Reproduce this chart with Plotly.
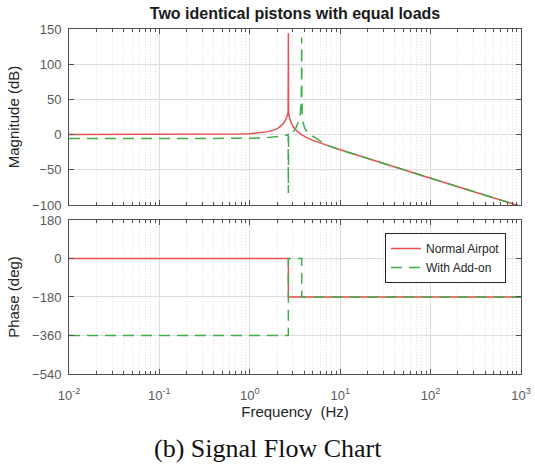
import plotly.graph_objects as go

# Magnitude response (dB) of the two configurations
freq_normal = [0.01, 0.1, 0.3, 0.5, 0.8, 1.0, 1.3, 1.6, 1.9, 2.1, 2.3, 2.45, 2.55, 2.62, 2.655,
               2.67, 2.685, 2.72, 2.8, 2.9, 3.05, 3.3, 3.7, 4.2, 5.0, 6.0, 7.0, 8.5, 10, 15, 20,
               30, 50, 70, 100, 200, 300, 500, 700, 1000]
mag_normal = [0, 0, 0.1, 0.3, 0.8, 1.3, 2.4, 4.2, 7.0, 9.9, 14.5, 19, 24.5, 28, 33,
              144, 33, 26, 19, 15, 10.5, 5.4, 0.3, -4.0, -8.2, -12.0, -15.0, -18.5, -21.5, -28.8, -33.8,
              -40.8, -49.8, -55.7, -62, -74, -81, -90, -96, -102]

freq_addon = [0.01, 0.1, 0.5, 1.0, 1.5, 2.0, 2.3, 2.5, 2.62, 2.655, 2.67, 2.685, 2.75, 2.9,
              3.05, 3.2, 3.35, 3.5, 3.62, 3.7, 3.735, 3.75, 3.765, 3.8, 3.9, 4.05, 4.3, 4.6,
              5.0, 5.5, 6.0, 7.0, 8.5, 10, 15, 20, 30, 50, 70, 100, 200, 300, 500, 700, 1000]
mag_addon = [-5.7, -5.7, -5.6, -5.3, -4.5, -3.2, -2.0, -1.0, -0.3, 0.2, -83, 0.5, 1.2, 3,
             5, 8, 13, 20, 30, 45, 70, 138, 60, 30, 16, 9, 4, 0.5,
             -2.5, -6.5, -9.8, -14.6, -18.8, -21.6, -28.8, -33.8, -40.8, -49.8, -55.7, -62, -74, -81, -90, -96, -102]

# Phase response (deg)
ph_freq_normal = [0.01, 2.67, 2.67, 1000]
ph_normal = [0, 0, -180, -180]
ph_freq_addon = [0.01, 2.67, 2.67, 3.75, 3.75, 1000]
ph_addon = [-360, -360, 0, 0, -180, -180]

names = ["Normal Airpot", "With Add-on"]
red = "#ea5052"
green = "#3fae49"

fig = go.Figure()
fig.add_trace(go.Scatter(x=freq_normal, y=mag_normal, mode="lines", name=names[0],
                         line=dict(color=red, width=1.5), showlegend=False,
                         xaxis="x", yaxis="y"))
fig.add_trace(go.Scatter(x=freq_addon, y=mag_addon, mode="lines", name=names[1],
                         line=dict(color=green, width=1.5, dash="11px,7px"), showlegend=False,
                         xaxis="x", yaxis="y"))
fig.add_trace(go.Scatter(x=ph_freq_normal, y=ph_normal, mode="lines", name=names[0],
                         line=dict(color=red, width=1.5), xaxis="x2", yaxis="y2"))
fig.add_trace(go.Scatter(x=ph_freq_addon, y=ph_addon, mode="lines", name=names[1],
                         line=dict(color=green, width=1.5, dash="11px,7px"), xaxis="x2", yaxis="y2"))

minor_vals = [m * 10 ** e for e in range(-2, 3) for m in range(2, 10)]
frame = "#505050"
tickfont = dict(family="Liberation Sans, Arial", size=13, color="#595959")
titlefont = dict(family="Liberation Sans, Arial", size=15, color="#262626")

xcommon = dict(type="log", range=[-2, 3], showline=True, linecolor=frame, linewidth=1,
               mirror="allticks", ticks="inside", ticklen=5, tickcolor=frame,
               tickvals=[0.01, 0.1, 1, 10, 100, 1000],
               ticktext=["10<sup>-2</sup>", "10<sup>-1</sup>", "10<sup>0</sup>",
                         "10<sup>1</sup>", "10<sup>2</sup>", "10<sup>3</sup>"],
               showgrid=True, gridcolor="#dedede", gridwidth=1,
               minor=dict(tickmode="array", tickvals=minor_vals, ticks="inside", ticklen=3,
                          tickcolor=frame, showgrid=True, gridcolor="#e2e2e2",
                          griddash="1px,2px", gridwidth=1),
               zeroline=False, tickfont=tickfont, automargin=False,
               ticklabeloverflow="allow")
ycommon = dict(showline=True, linecolor=frame, linewidth=1, mirror="allticks",
               ticks="inside", ticklen=5, tickcolor=frame, showgrid=True,
               gridcolor="#dedede", gridwidth=1, zeroline=False, tickfont=tickfont,
               ticklabelstandoff=4, automargin=False)

top_dom = [0.4899, 1.0]
bot_dom = [0.0, 0.4464]

fig.update_layout(
    width=535, height=471,
    margin=dict(l=69, r=14, t=29, b=97, autoexpand=False),
    paper_bgcolor="white", plot_bgcolor="white",
    xaxis=dict(xcommon, anchor="y", showticklabels=False),
    yaxis=dict(ycommon, domain=top_dom, anchor="x", range=[-100, 150], dtick=50,
               title=dict(text="Magnitude (dB)", font=titlefont, standoff=8)),
    xaxis2=dict(xcommon, anchor="y2", matches="x", ticklabelstandoff=9,
                title=dict(text="Frequency  (Hz)", font=titlefont, standoff=2)),
    yaxis2=dict(ycommon, domain=bot_dom, anchor="x2", range=[-540, 180],
                tickvals=[-540, -360, -180, 0, 180],
                title=dict(text="Phase (deg)", font=titlefont, standoff=8)),
    title=dict(text="<b>Two identical pistons with equal loads</b>",
               font=dict(family="Liberation Sans, Arial", size=16, color="#1a1a1a"),
               x=0.5, xref="paper", xanchor="center",
               y=1 - 13 / 471, yref="container", yanchor="middle"),
    legend=dict(x=(385 - 69) / 452, y=(374 - 233) / 345, xanchor="left", yanchor="top",
                bgcolor="white", bordercolor="#262626", borderwidth=1,
                font=dict(family="Liberation Sans, Arial", size=12, color="#262626"),
                tracegroupgap=0, itemwidth=30),
    showlegend=True,
    annotations=[dict(text="(b) Signal Flow Chart", xref="paper", yref="paper",
                      x=(267.5 - 69) / 452, y=-(448 - 374) / 345,
                      xanchor="center", yanchor="middle", showarrow=False,
                      font=dict(family="Liberation Serif, Times New Roman, serif",
                                size=26, color="#111111"))],
)

fig.write_html("out.html")
